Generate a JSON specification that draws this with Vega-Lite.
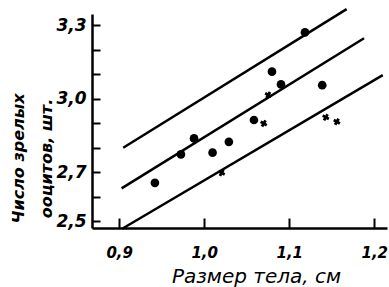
{
  "$schema": "https://vega.github.io/schema/vega-lite/v6.json",
  "width": 295,
  "height": 214,
  "autosize": {"type": "none"},
  "padding": {"left": 92, "top": 14, "right": 2, "bottom": 59},
  "background": "white",
  "config": {
    "view": {"stroke": null},
    "axis": {
      "grid": false,
      "domain": true,
      "domainColor": "black",
      "domainWidth": 2.5,
      "labelColor": "black",
      "titleColor": "black",
      "labelFont": "DejaVu Sans",
      "titleFont": "DejaVu Sans"
    }
  },
  "encoding": {
    "x": {
      "field": "x",
      "type": "quantitative",
      "scale": {"domain": [0.868, 1.215], "zero": false, "nice": false},
      "axis": {
        "values": [0.9, 1.0, 1.1, 1.2],
        "ticks": true,
        "tickSize": -10,
        "tickColor": "black",
        "tickWidth": 2,
        "zindex": 1,
        "labelExpr": "replace(format(datum.value, '.1f'), '.', ',')",
        "labelFontSize": 15,
        "labelFontStyle": "italic",
        "labelFontWeight": "bold",
        "labelPadding": 27,
        "title": "Размер тела, см",
        "titleFontSize": 20,
        "titleFontStyle": "italic",
        "titleFontWeight": "normal",
        "titleX": 164,
        "titleY": 54,
        "titleBaseline": "alphabetic",
        "titleAlign": "center"
      }
    },
    "y": {
      "field": "y",
      "type": "quantitative",
      "scale": {"domain": [2.473, 3.345], "zero": false, "nice": false},
      "axis": {
        "values": [2.5, 2.6, 2.7, 2.8, 2.9, 3.0, 3.1, 3.2, 3.3],
        "ticks": true,
        "tickSize": -8,
        "tickColor": "black",
        "tickWidth": 2,
        "zindex": 1,
        "labelExpr": "indexof([2.5, 2.7, 3, 3.3], datum.value) >= 0 ? replace(format(datum.value, '.1f'), '.', ',') : ''",
        "labelFontSize": 17,
        "labelFontStyle": "italic",
        "labelFontWeight": "bold",
        "labelPadding": 14,
        "title": ["Число зрелых", "ооцитов, шт."],
        "titleFontSize": 16,
        "titleFontStyle": "italic",
        "titleFontWeight": "bold",
        "titleAngle": -90,
        "titleX": -82,
        "titleY": 144,
        "titleAlign": "center",
        "titleBaseline": "top",
        "titleLineHeight": 28
      }
    }
  },
  "layer": [
    {
      "data": {
        "values": [
          {"line": "upper", "x": 0.9047, "y": 2.8},
          {"line": "upper", "x": 1.1675, "y": 3.365},
          {"line": "middle", "x": 0.9028, "y": 2.6345},
          {"line": "middle", "x": 1.188, "y": 3.246},
          {"line": "lower", "x": 0.9035, "y": 2.47},
          {"line": "lower", "x": 1.21, "y": 3.096}
        ]
      },
      "mark": {"type": "line", "color": "black", "strokeWidth": 2.5},
      "encoding": {"detail": {"field": "line"}}
    },
    {
      "data": {
        "values": [
          {"x": 0.942, "y": 2.657},
          {"x": 0.9726, "y": 2.773},
          {"x": 0.988, "y": 2.838},
          {"x": 1.0098, "y": 2.78},
          {"x": 1.029, "y": 2.824},
          {"x": 1.0585, "y": 2.913},
          {"x": 1.0797, "y": 3.11},
          {"x": 1.0903, "y": 3.058},
          {"x": 1.1185, "y": 3.27},
          {"x": 1.1388, "y": 3.055}
        ]
      },
      "mark": {"type": "point", "shape": "circle", "filled": true, "color": "black", "opacity": 1, "size": 75}
    },
    {
      "data": {
        "values": [
          {"x": 1.0753, "y": 3.015},
          {"x": 1.07, "y": 2.899},
          {"x": 1.143, "y": 2.924},
          {"x": 1.156, "y": 2.906},
          {"x": 1.0205, "y": 2.698}
        ]
      },
      "mark": {"type": "point", "shape": "cross", "filled": true, "color": "black", "opacity": 1, "size": 50, "angle": 30}
    }
  ]
}
